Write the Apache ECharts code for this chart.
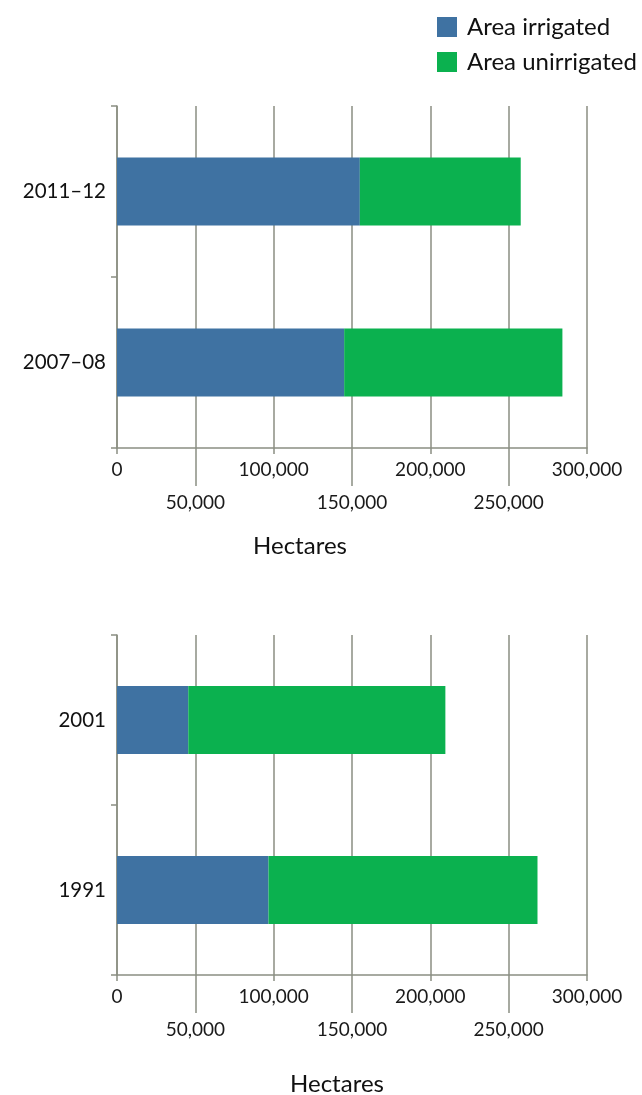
<!DOCTYPE html>
<html>
<head>
<meta charset="utf-8">
<script src="https://cdn.jsdelivr.net/npm/echarts@6/dist/echarts.min.js"></script>
<style>
  html, body { margin: 0; padding: 0; background: #ffffff; }
  #chart { width: 642px; height: 1095px; }
</style>
</head>
<body>
<div id="chart"></div>
<script>
// Area of land (hectares), irrigated vs unirrigated, for four survey years
const yearsRecent = ['2007–08', '2011–12'];
const irrigatedRecent = [145000, 155000];
const unirrigatedRecent = [139300, 102700];

const yearsEarlier = ['1991', '2001'];
const irrigatedEarlier = [96700, 45500];
const unirrigatedEarlier = [171700, 164100];

const seriesNames = ['Area irrigated', 'Area unirrigated'];
const axisTitle = 'Hectares';
const xMin = 0, xMax = 300000, xStep = 50000;

const FONT = 'Lato, "Open Sans", sans-serif';
const GRID_COLOR = '#8b8e82';
const BLUE = '#3f72a2';
const GREEN = '#0bb14f';

const fmt = v => v.toLocaleString('en-US');

function xAxesFor(gridIndex) {
  return [
    { // main axis: gridlines, ticks, labels at 0/100k/200k/300k
      type: 'value', gridIndex, position: 'bottom',
      min: xMin, max: xMax, interval: xStep * 2,
      axisLine: { show: true, lineStyle: { color: GRID_COLOR, width: 1.5 } },
      axisTick: { show: true, length: 6, lineStyle: { color: GRID_COLOR, width: 1.5 } },
      minorTick: { show: true, splitNumber: 2, length: 38, lineStyle: { color: GRID_COLOR, width: 1.5 } },
      splitLine: { show: true, lineStyle: { color: GRID_COLOR, width: 1.5 } },
      minorSplitLine: { show: true, lineStyle: { color: GRID_COLOR, width: 1.5 } },
      axisLabel: { margin: 12, fontFamily: FONT, fontSize: 19, color: '#1a1a1a', formatter: fmt }
    },
    { // secondary axis: staggered labels at 50k/150k/250k
      type: 'value', gridIndex, position: 'bottom',
      min: xMin, max: xMax, interval: xStep,
      axisLine: { show: false }, axisTick: { show: false }, splitLine: { show: false },
      axisLabel: {
        margin: 45, fontFamily: FONT, fontSize: 19, color: '#1a1a1a',
        formatter: v => (Math.round(v / xStep) % 2 === 1 ? fmt(v) : '')
      }
    }
  ];
}

function yAxisFor(gridIndex, cats) {
  return {
    type: 'category', gridIndex, data: cats,
    axisLine: { show: true, lineStyle: { color: GRID_COLOR, width: 1.5 } },
    axisTick: { show: true, length: 6, lineStyle: { color: GRID_COLOR, width: 1.5 } },
    axisLabel: { margin: 11, fontFamily: FONT, fontSize: 20.5, color: '#111111' }
  };
}

function barSeries(xAxisIndex, yAxisIndex, stack, irr, unirr) {
  return [
    { name: seriesNames[0], type: 'bar', stack, xAxisIndex, yAxisIndex, data: irr,
      barWidth: 68, itemStyle: { color: BLUE }, silent: true },
    { name: seriesNames[1], type: 'bar', stack, xAxisIndex, yAxisIndex, data: unirr,
      barWidth: 68, itemStyle: { color: GREEN }, silent: true }
  ];
}

const chart = echarts.init(document.getElementById('chart'), null, { renderer: 'canvas' });

chart.setOption({
  animation: false,
  backgroundColor: '#ffffff',
  legend: {
    orient: 'vertical', left: 437, top: 15, padding: 0,
    itemWidth: 20, itemHeight: 20, itemGap: 11,
    icon: 'rect',
    data: seriesNames,
    textStyle: { fontFamily: FONT, fontSize: 24, color: '#111111', padding: [0, 0, 0, 5] }
  },
  grid: [
    { left: 117, right: 55, top: 106, height: 342 },
    { left: 117, right: 55, top: 635, height: 340 }
  ],
  xAxis: [...xAxesFor(0), ...xAxesFor(1)],
  yAxis: [yAxisFor(0, yearsRecent), yAxisFor(1, yearsEarlier)],
  series: [
    ...barSeries(0, 0, 'recent', irrigatedRecent, unirrigatedRecent),
    ...barSeries(2, 1, 'earlier', irrigatedEarlier, unirrigatedEarlier)
  ],
  graphic: [
    { type: 'text', x: 300, y: 546, style: { text: axisTitle, fontFamily: FONT, fontSize: 24,
      fill: '#111111', textAlign: 'center', textVerticalAlign: 'middle' } },
    { type: 'text', x: 337, y: 1084, style: { text: axisTitle, fontFamily: FONT, fontSize: 24,
      fill: '#111111', textAlign: 'center', textVerticalAlign: 'middle' } }
  ]
});
</script>
</body>
</html>
